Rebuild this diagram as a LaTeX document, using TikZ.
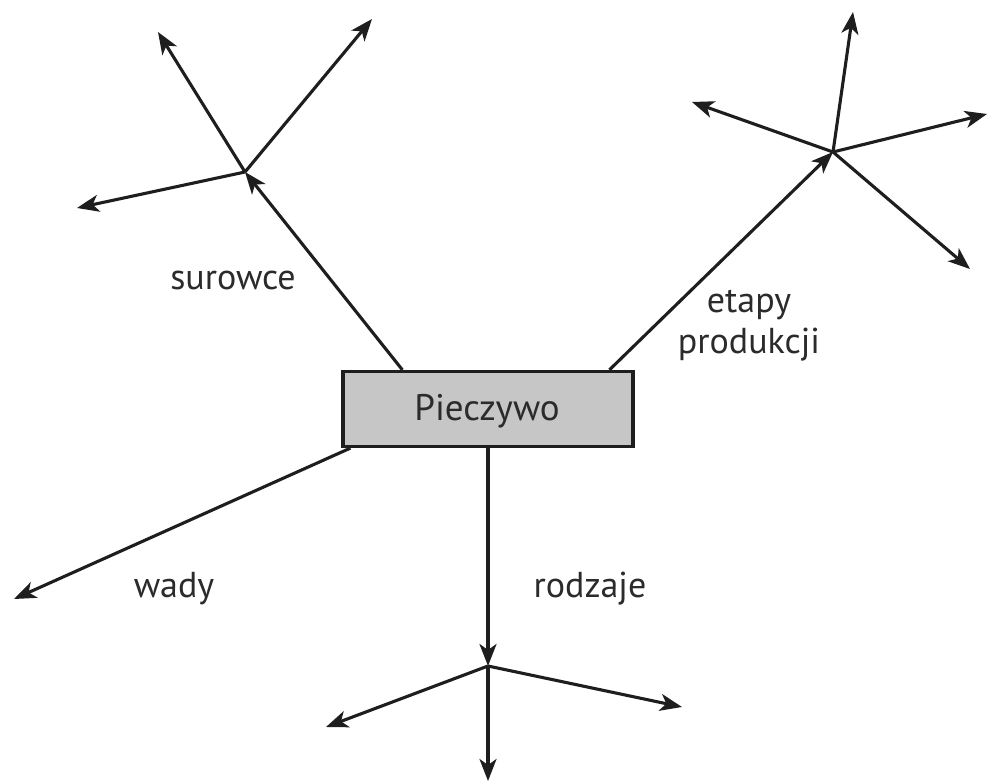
\documentclass[tikz,border=0pt]{standalone}
\usepackage{fontspec}
\setmainfont{PT Sans}
\usetikzlibrary{arrows.meta,calc}
\definecolor{inkline}{HTML}{1E1E1E}
\definecolor{inktext}{HTML}{2B2B2B}
\definecolor{boxfill}{HTML}{C6C6C6}
\begin{document}
\begin{tikzpicture}[x=1pt,y=-1pt,
  link/.style={draw=inkline,line width=3.1pt,-{Stealth[length=22pt,width=17pt,inset=6pt]}},
  mainbox/.style={draw=inkline,line width=3.2pt,fill=boxfill,minimum width=290pt,minimum height=75pt,inner sep=0pt},
  boxtext/.style={font=\fontsize{37}{42}\selectfont,text=inktext,inner sep=0pt,anchor=base},
  lbl/.style={font=\fontsize{36}{41}\selectfont,text=inktext,inner sep=0pt,align=center,anchor=base}]
\useasboundingbox (0,0) rectangle (987,783);

% central box and its caption
\node[mainbox] (box) at (488,409) {};
\node[boxtext] (cap) at (487,420) {Pieczywo};

% points where the connectors leave the box
\coordinate (outA) at ($(box.north west)+(61,0)$);
\coordinate (outB) at ($(box.north west)+(268,0)$);
\coordinate (outW) at ($(box.south west)+(9,0)$);
\coordinate (outC) at (box.south);

% hubs
\coordinate (hubA) at (245,172);
\coordinate (hubB) at (833,152);
\coordinate (hubC) at (488,666);

% free ends
\coordinate (a1) at (158,32);
\coordinate (a2) at (372,19);
\coordinate (a3) at (77,208);
\coordinate (b1) at (853,12);
\coordinate (b2) at (987,114);
\coordinate (b3) at (692,102);
\coordinate (b4) at (970,269);
\coordinate (c1) at (326,727);
\coordinate (c2) at (682,707);
\coordinate (c3) at (488,781);
\coordinate (w1) at (14,599);

% main branches
\draw[link] (outA) -- (hubA);
\draw[link] (outB) -- (hubB);
\draw[link] (outC) -- (hubC);
\draw[link] (outW) -- (w1);

% sub-branches
\draw[link] (hubA) -- (a1);
\draw[link] (hubA) -- (a2);
\draw[link] (hubA) -- (a3);
\draw[link] (hubB) -- (b1);
\draw[link] (hubB) -- (b2);
\draw[link] (hubB) -- (b3);
\draw[link] (hubB) -- (b4);
\draw[link] (hubC) -- (c1);
\draw[link] (hubC) -- (c2);
\draw[link] (hubC) -- (c3);

% labels (placed by the baseline of their last line)
\node[lbl] (lsur) at (233,290) {surowce};
\node[lbl] (letap) at (749,353) {etapy\\produkcji};
\node[lbl] (lwad) at (174,597) {wady};
\node[lbl] (lrod) at (590,597) {rodzaje};
\end{tikzpicture}
\end{document}
